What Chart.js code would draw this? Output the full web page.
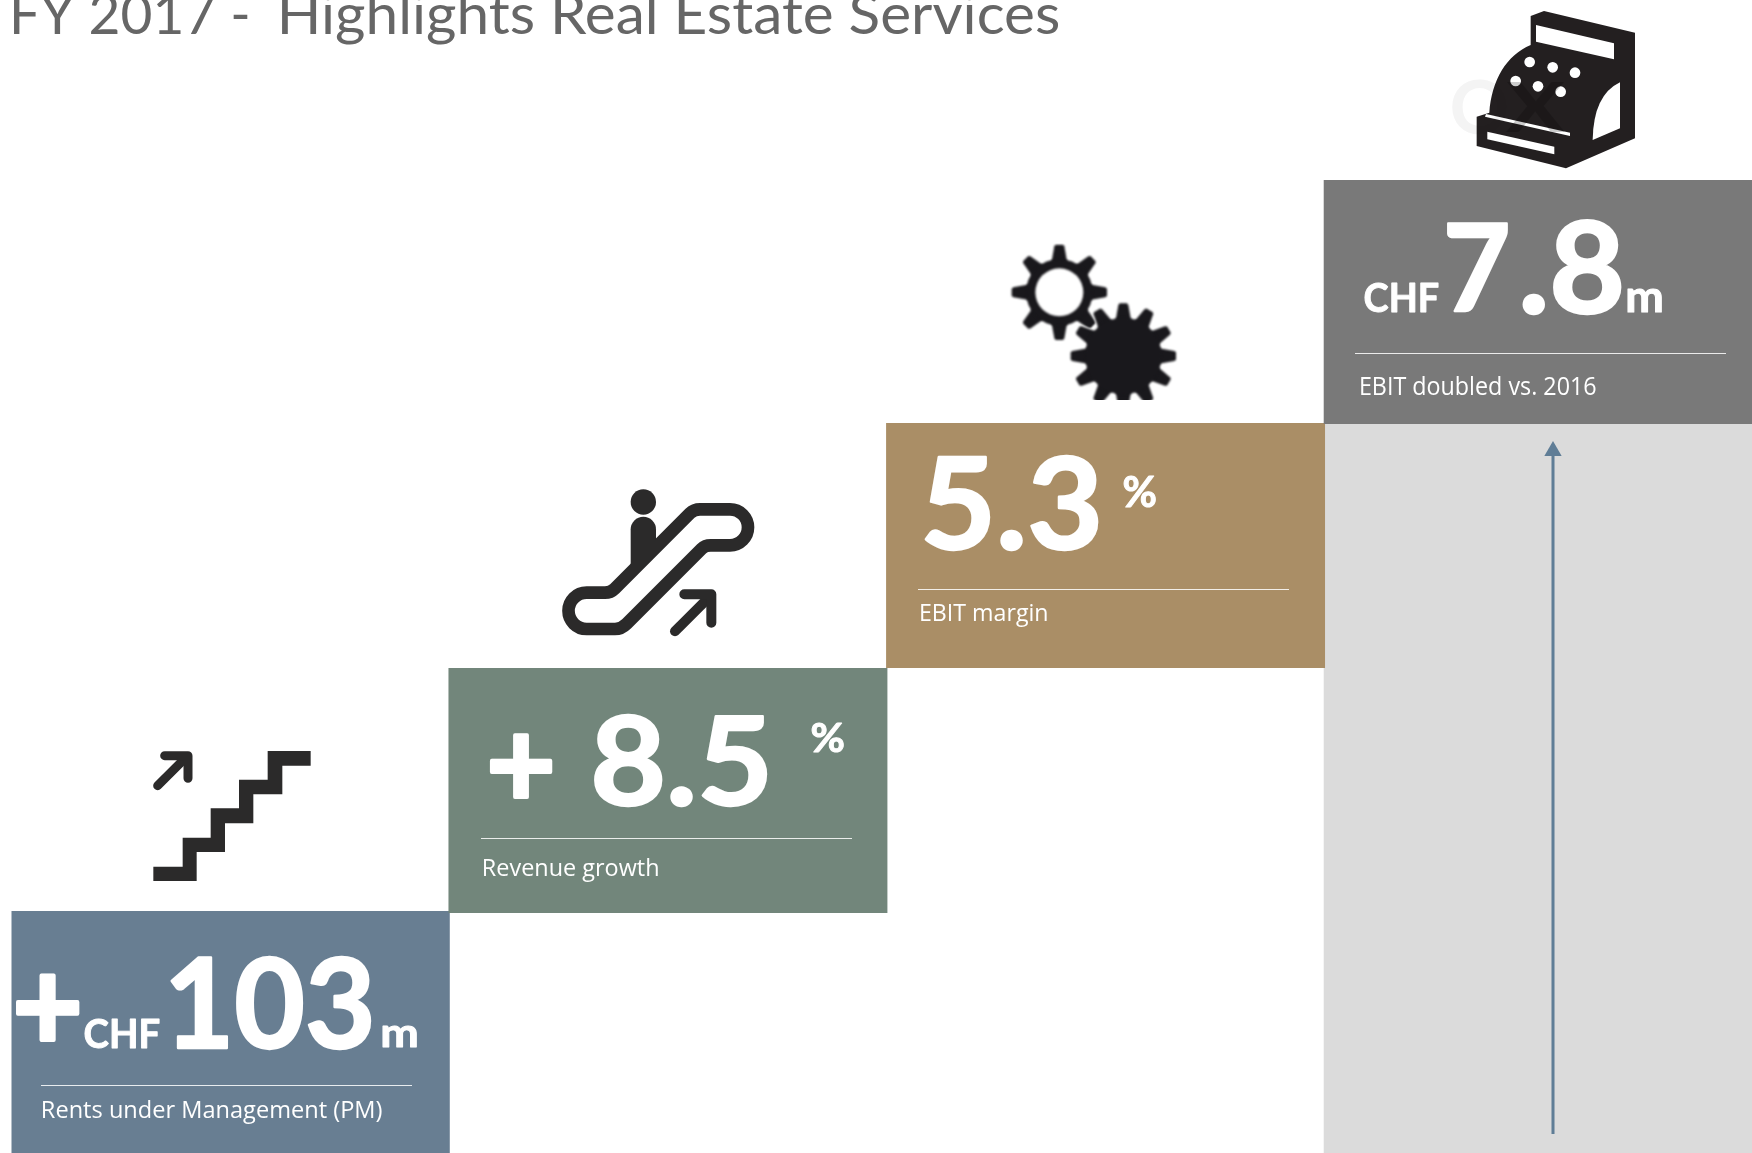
<!DOCTYPE html>
<html>
<head>
<meta charset="utf-8">
<title>FY 2017 - Highlights Real Estate Services</title>
<script src="https://cdn.jsdelivr.net/npm/chart.js@4"></script>
<style>
    html, body { margin: 0; padding: 0; background: #fff; overflow: hidden; }
    canvas { display: block; }
</style>
</head>
<body>
<canvas id="myChart" width="1762" height="1153"></canvas>
<script>
const titleParts = ["FY 2017 -", "Highlights Real Estate Services"];
const categories = ["Rents under Management (PM)", "Revenue growth", "EBIT margin", "EBIT doubled vs. 2016"];
const stepBottoms = [0, 240, 485, 729];
const stepTops = [242, 485, 730, 973];
const columnBottoms = [null, null, null, 0];
const columnTops = [null, null, null, 729];
const arrowLevels = [19, 702];
const stepColors = ["#687e92", "#72867b", "#aa8e66", "#797979"];

const WHITE = "#ffffff";
const ICON = "#2b2a2a";

// draws text so that its ink fills the given box, heavy thickens the strokes
function fitText(ctx, text, font, x0, y0, x1, y1, color, heavy) {
    let pad = (heavy || 0) / 2;
    x0 += pad; y0 += pad; x1 -= pad; y1 -= pad;
    ctx.save();
    ctx.font = font;
    ctx.fillStyle = color || WHITE;
    ctx.textAlign = "left";
    ctx.textBaseline = "alphabetic";
    let m = ctx.measureText(text);
    let w = m.actualBoundingBoxRight + m.actualBoundingBoxLeft;
    let h = m.actualBoundingBoxAscent + m.actualBoundingBoxDescent;
    let sx = (x1 - x0) / w;
    let sy = (y1 - y0) / h;
    ctx.translate(x0 + m.actualBoundingBoxLeft * sx, y1 - m.actualBoundingBoxDescent * sy);
    ctx.scale(sx, sy);
    ctx.fillText(text, 0, 0);
    if (heavy) {
        ctx.strokeStyle = color || WHITE;
        ctx.lineWidth = heavy;
        ctx.lineJoin = "round";
        ctx.strokeText(text, 0, 0);
    }
    ctx.restore();
}

// same idea but only the width is fitted, the baseline is given
function titleText(ctx, text, x0, x1, baseline) {
    ctx.save();
    ctx.font = "56px Lato";
    ctx.fillStyle = "#666666";
    let m = ctx.measureText(text);
    let sx = (x1 - x0) / (m.actualBoundingBoxRight + m.actualBoundingBoxLeft);
    ctx.translate(x0 + m.actualBoundingBoxLeft * sx, baseline);
    ctx.scale(sx, 1);
    ctx.fillText(text, 0, 0);
    ctx.restore();
}

function rule(ctx, x0, x1, y) {
    ctx.fillStyle = "rgba(255,255,255,0.85)";
    ctx.fillRect(x0, y, x1 - x0, 1);
}

function polygon(ctx, pts) {
    ctx.beginPath();
    ctx.moveTo(pts[0], pts[1]);
    for (let i = 2; i < pts.length; i += 2)
        ctx.lineTo(pts[i], pts[i + 1]);
    ctx.closePath();
    ctx.fill();
}

function stairsIcon(ctx) {
    ctx.save();
    ctx.translate(0, 700);
    ctx.scale(1 / 3, 1 / 3);
    ctx.fillStyle = ICON;
    ctx.strokeStyle = ICON;
    polygon(ctx, [460, 500, 548, 500, 548, 413, 632, 413, 632, 325, 717, 325, 717, 239, 803, 239, 803, 153, 932, 153,
        932, 197, 847, 197, 847, 283, 760, 283, 760, 370, 675, 370, 675, 456, 590, 456, 590, 543, 460, 543]);
    ctx.lineCap = "round";
    ctx.lineJoin = "round";
    ctx.lineWidth = 27;
    ctx.beginPath();
    ctx.moveTo(473, 257);
    ctx.lineTo(558, 172);
    ctx.stroke();
    ctx.beginPath();
    ctx.moveTo(494, 167);
    ctx.lineTo(564, 167);
    ctx.lineTo(564, 235);
    ctx.stroke();
    ctx.restore();
}

function escalatorIcon(ctx) {
    ctx.save();
    ctx.translate(440, 470);
    ctx.scale(1 / 3, 1 / 3);
    ctx.fillStyle = ICON;
    ctx.strokeStyle = ICON;
    ctx.lineWidth = 38;
    ctx.beginPath();
    ctx.moveTo(440, 368);
    ctx.lineTo(495, 368);
    ctx.quadraticCurveTo(512, 368, 524, 356);
    ctx.lineTo(750, 130);
    ctx.quadraticCurveTo(762, 118, 780, 118);
    ctx.lineTo(870, 118);
    ctx.arc(870, 172, 54, -Math.PI / 2, Math.PI / 2);
    ctx.lineTo(812, 226);
    ctx.quadraticCurveTo(795, 226, 785, 236);
    ctx.lineTo(560, 461);
    ctx.quadraticCurveTo(544, 477, 525, 477);
    ctx.lineTo(440, 477);
    ctx.arc(440, 422.5, 54.5, Math.PI / 2, Math.PI * 1.5);
    ctx.closePath();
    ctx.stroke();
    // person
    ctx.beginPath();
    ctx.arc(610, 96, 38, 0, Math.PI * 2);
    ctx.fill();
    ctx.beginPath();
    ctx.moveTo(572, 285);
    ctx.lineTo(572, 178);
    ctx.arc(610, 178, 38, Math.PI, 0);
    ctx.lineTo(648, 210);
    ctx.closePath();
    ctx.fill();
    // arrow
    ctx.lineCap = "round";
    ctx.lineJoin = "round";
    ctx.lineWidth = 30;
    ctx.beginPath();
    ctx.moveTo(705, 484);
    ctx.lineTo(808, 381);
    ctx.stroke();
    ctx.beginPath();
    ctx.moveTo(733, 373);
    ctx.lineTo(814, 373);
    ctx.lineTo(814, 458);
    ctx.stroke();
    ctx.restore();
}

function gear(ctx, cx, cy, root, outer, teeth, start, color) {
    ctx.save();
    ctx.translate(cx, cy);
    ctx.fillStyle = color;
    for (let i = 0; i < teeth; i++) {
        ctx.save();
        ctx.rotate(start + i * Math.PI * 2 / teeth);
        polygon(ctx, [root - 12, -24, outer - 5, -15, outer, -11, outer, 11, outer - 5, 15, root - 12, 24]);
        ctx.restore();
    }
    ctx.beginPath();
    ctx.arc(0, 0, root, 0, Math.PI * 2);
    ctx.fill();
    ctx.restore();
}

function gearsIcon(ctx) {
    ctx.save();
    ctx.translate(880, 230);
    ctx.scale(1 / 3, 1 / 3);
    ctx.beginPath();
    ctx.rect(380, 40, 540, 470);
    ctx.clip();
    ctx.filter = "blur(1px)";
    gear(ctx, 538, 187, 100, 143, 8, 0, "#19181c");
    ctx.fillStyle = WHITE;
    ctx.beginPath();
    ctx.arc(538, 187, 72, 0, Math.PI * 2);
    ctx.fill();
    gear(ctx, 730, 378, 126, 163, 12, 0, WHITE);
    gear(ctx, 730, 378, 115, 158, 12, 0, "#19181c");
    ctx.restore();
}

function registerIcon(ctx) {
    ctx.save();
    ctx.translate(1320, 0);
    ctx.scale(1 / 3, 1 / 3);
    ctx.fillStyle = "#231f20";
    ctx.beginPath();
    ctx.moveTo(632, 48);
    ctx.lineTo(672, 33);
    ctx.lineTo(945, 98);
    ctx.lineTo(945, 415);
    ctx.lineTo(738, 505);
    ctx.lineTo(470, 438);
    ctx.lineTo(470, 350);
    ctx.lineTo(508, 338);
    ctx.bezierCurveTo(515, 240, 560, 165, 632, 135);
    ctx.closePath();
    ctx.fill();
    ctx.fillStyle = WHITE;
    polygon(ctx, [648, 75, 882, 130, 882, 178, 648, 125]);
    polygon(ctx, [498, 342, 750, 398, 750, 408, 495, 350]);
    polygon(ctx, [502, 395, 703, 440, 703, 463, 502, 418]);
    ctx.beginPath();
    ctx.moveTo(818, 420);
    ctx.lineTo(900, 385);
    ctx.lineTo(900, 247);
    ctx.quadraticCurveTo(820, 285, 818, 420);
    ctx.closePath();
    ctx.fill();
    let keysX = [629, 698, 765, 587, 654, 722];
    let keysY = [186, 202, 218, 243, 259, 275];
    for (let i = 0; i < keysX.length; i++) {
        ctx.beginPath();
        ctx.arc(keysX[i], keysY[i], 16, 0, Math.PI * 2);
        ctx.fill();
    }
    ctx.restore();
    // faint stamp across the till
    ctx.save();
    ctx.globalCompositeOperation = "multiply";
    fitText(ctx, "O", "bold 60px Lato", 1452, 80, 1508, 134, "#f4f4f4");
    ctx.restore();
    fitText(ctx, "X", "bold 60px Lato", 1506, 82, 1566, 132, "rgba(0,0,0,0.2)");
}

const slideDecor = {
    id: "slideDecor",
    afterDatasetsDraw: function (chart) {
        let ctx = chart.ctx;
        let big = "bold 128px Lato";
        let mid = "bold 42px Lato";
        let small = "22px 'Open Sans'";

        // title runs off the top of the slide
        titleText(ctx, titleParts[0], 14, 248, 34);
        titleText(ctx, titleParts[1], 282, 1059, 34);

        // step 1
        fitText(ctx, "+", big, 15, 973, 80, 1042, WHITE, 4);
        fitText(ctx, "CHF", mid, 84, 1018, 160, 1048, WHITE, 1);
        fitText(ctx, "103", big, 170, 955, 372, 1050, WHITE, 2.5);
        fitText(ctx, "m", mid, 382, 1025, 417, 1047, WHITE, 1);
        rule(ctx, 41, 412, 1085);
        fitText(ctx, categories[0], small, 43, 1100, 382, 1123);

        // step 2
        fitText(ctx, "+", big, 489, 733, 553, 799, WHITE, 4);
        fitText(ctx, "8.5", big, 593, 713, 768, 807, WHITE, 2.5);
        fitText(ctx, "%", mid, 811, 721, 844, 752, WHITE, 1);
        rule(ctx, 481, 852, 838);
        fitText(ctx, categories[1], small, 484, 858, 658, 881);

        // step 3
        fitText(ctx, "5.3", big, 924, 455, 1099, 551, WHITE, 2.5);
        fitText(ctx, "%", mid, 1123, 475, 1156, 507, WHITE, 1);
        rule(ctx, 918, 1289, 589);
        fitText(ctx, categories[2], small, 921, 604, 1047, 626);

        // step 4
        fitText(ctx, "CHF", mid, 1364, 282, 1439, 312, WHITE, 1);
        fitText(ctx, "7", big, 1446, 221, 1508, 312, WHITE, 2.5);
        fitText(ctx, ".8", big, 1522, 219, 1622, 315, WHITE, 2.5);
        fitText(ctx, "m", mid, 1627, 288, 1662, 312, WHITE, 1);
        rule(ctx, 1355, 1726, 353);
        fitText(ctx, categories[3], small, 1361, 376, 1596, 395);

        stairsIcon(ctx);
        escalatorIcon(ctx);
        gearsIcon(ctx);
        registerIcon(ctx);
    }
};

new Chart(document.getElementById("myChart"), {
    data: {
        labels: categories,
        datasets: [
            {
                type: "line",
                label: "Arrow",
                xAxisID: "xArrow",
                data: arrowLevels.map(function (v) { return { x: 1553, y: v }; }),
                borderColor: "#5f7d96",
                borderWidth: 3,
                backgroundColor: "#5f7d96",
                pointStyle: "triangle",
                pointRadius: [0, 10],
                pointBorderWidth: 0,
                order: 0
            },
            {
                type: "bar",
                label: "Column",
                data: columnTops.map(function (v, i) { return v === null ? null : [columnBottoms[i], v]; }),
                backgroundColor: "#dbdbdb",
                grouped: false,
                categoryPercentage: 1.003,
                barPercentage: 1,
                order: 2
            },
            {
                type: "bar",
                label: "Steps",
                data: stepTops.map(function (v, i) { return [stepBottoms[i], v]; }),
                backgroundColor: stepColors,
                grouped: false,
                categoryPercentage: 1.003,
                barPercentage: 1,
                order: 1
            }
        ]
    },
    options: {
        responsive: false,
        animation: false,
        layout: { autoPadding: false, padding: { left: 11.5, right: 0, top: 0, bottom: 0 } },
        plugins: { legend: { display: false }, tooltip: { enabled: false } },
        scales: {
            x: { display: false, grid: { display: false } },
            xArrow: { type: "linear", display: false, min: 11.5, max: 1762 },
            y: { display: false, min: 0, max: 1153, grid: { display: false } }
        }
    },
    plugins: [slideDecor]
});
</script>
</body>
</html>
